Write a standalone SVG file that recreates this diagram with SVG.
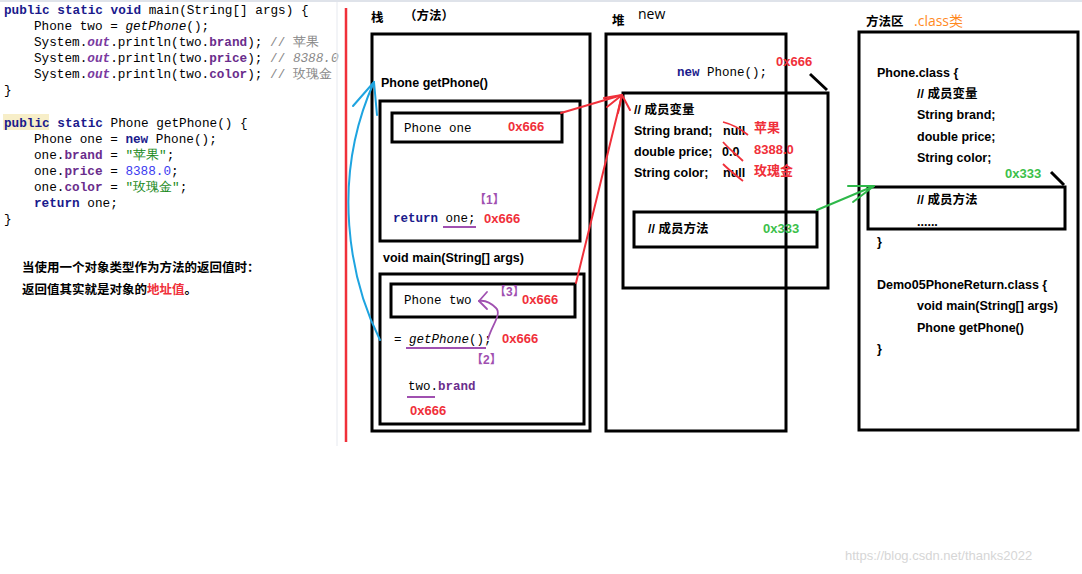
<svg xmlns="http://www.w3.org/2000/svg" width="1082" height="574" viewBox="0 0 1082 574">
<style>
.c{font-family:"Liberation Mono",monospace;font-size:12.7px;fill:#000}
.k{fill:#1a1a8c;font-weight:bold}
.f{fill:#6a2d8c;font-weight:bold}
.o{fill:#7a3aa0;font-weight:bold;font-style:italic}
.cm{fill:#888}
.s{fill:#1a8a1a}
.n{fill:#3a3af0}
.b{font-family:"Liberation Sans","Noto Sans CJK SC",sans-serif;font-size:12.5px;font-weight:bold;fill:#000}
.r{font-family:"Liberation Sans","Noto Sans CJK SC",sans-serif;font-size:13px;font-weight:bold;fill:#f0303a}
.g{font-family:"Liberation Sans","Noto Sans CJK SC",sans-serif;font-size:13px;font-weight:bold;fill:#3cbf4a}
.p{font-family:"Liberation Sans","Noto Sans CJK SC",sans-serif;font-size:12px;font-weight:bold;fill:#a050b0}
.m{font-family:"Liberation Mono",monospace;font-size:12.5px;fill:#000}
.box{fill:none;stroke:#000;stroke-width:3}
</style>
<rect width="1082" height="574" fill="#fff"/>
<line x1="0" y1="1" x2="1082" y2="1" stroke="#dfe3ea" stroke-width="2"/>
<g id="code">
<text class="c" x="4" y="14"><tspan class="k">public static void</tspan> main(String[] args) {</text>
<text class="c" x="34" y="30">Phone two = <tspan font-style="italic">getPhone</tspan>();</text>
<text class="c" x="34" y="46">System.<tspan class="o">out</tspan>.println(two.<tspan class="f">brand</tspan>); <tspan class="cm">// 苹果</tspan></text>
<text class="c" x="34" y="62">System.<tspan class="o">out</tspan>.println(two.<tspan class="f">price</tspan>); <tspan class="cm">// <tspan font-style="italic">8388.0</tspan></tspan></text>
<text class="c" x="34" y="78">System.<tspan class="o">out</tspan>.println(two.<tspan class="f">color</tspan>); <tspan class="cm">// 玫瑰金</tspan></text>
<text class="c" x="4" y="94">}</text>
<rect x="3" y="114" width="46" height="16" fill="#f7eec8"/>
<text class="c" x="4" y="127"><tspan class="k">public static</tspan> Phone getPhone() {</text>
<text class="c" x="34" y="143">Phone one = <tspan class="k">new</tspan> Phone();</text>
<text class="c" x="34" y="159">one.<tspan class="f">brand</tspan> = <tspan class="s">"苹果"</tspan>;</text>
<text class="c" x="34" y="175">one.<tspan class="f">price</tspan> = <tspan class="n">8388.0</tspan>;</text>
<text class="c" x="34" y="191">one.<tspan class="f">color</tspan> = <tspan class="s">"玫瑰金"</tspan>;</text>
<text class="c" x="34" y="207"><tspan class="k">return</tspan> one;</text>
<text class="c" x="4" y="223">}</text>
<text class="b" x="22" y="272" font-size="12px">当使用一个对象类型作为方法的返回值时：</text>
<text class="b" x="22" y="294" font-size="12px">返回值其实就是对象的<tspan fill="#f0303a">地址值</tspan>。</text>
<line x1="337" y1="2" x2="337" y2="446" stroke="#e6e9ef" stroke-width="1"/>
</g>
<line x1="346" y1="8" x2="346" y2="442" stroke="#f0303a" stroke-width="2.5"/>
<g id="stack">
<text class="b" x="371" y="22">栈</text>
<text class="b" x="404" y="20" font-weight="normal" font-size="14px">（方法）</text>
<rect class="box" x="372" y="34" width="218" height="397"/>
<text class="b" x="381" y="87">Phone getPhone()</text>
<rect class="box" x="380" y="101" width="200" height="140"/>
<rect class="box" x="392" y="113" width="170" height="29"/>
<text class="m" x="404" y="132">Phone one</text>
<text class="r" x="508" y="131">0x666</text>
<text class="p" x="474" y="204">【1】</text>
<text class="m" x="393" y="222"><tspan class="k">return</tspan> one;</text>
<line x1="443" y1="227" x2="476" y2="227" stroke="#a050b0" stroke-width="2"/>
<text class="r" x="484" y="223">0x666</text>
<text class="b" x="383" y="262">void main(String[] args)</text>
<rect class="box" x="380" y="274" width="204" height="150"/>
<rect class="box" x="391" y="284" width="184" height="33"/>
<text class="m" x="404" y="304">Phone two</text>
<text class="p" x="494" y="296" font-size="10.5px">【3】</text>
<text class="r" x="522" y="304">0x666</text>
<text class="m" x="394" y="343">= <tspan font-style="italic">getPhone</tspan>();</text>
<line x1="406" y1="348" x2="486" y2="348" stroke="#a050b0" stroke-width="2"/>
<text class="r" x="502" y="343">0x666</text>
<text class="p" x="471" y="364">【2】</text>
<text class="m" x="408" y="390">two.<tspan class="f">brand</tspan></text>
<line x1="407" y1="397" x2="435" y2="397" stroke="#a050b0" stroke-width="2"/>
<text class="r" x="410" y="415">0x666</text>
</g>
<g id="heap">
<text class="b" x="612" y="25">堆</text>
<text x="638" y="19" font-family="'Open Sans','Liberation Sans',sans-serif" font-size="14px">new</text>
<rect class="box" x="606" y="34" width="180" height="397"/>
<text class="m" x="677" y="76"><tspan class="k">new</tspan> Phone();</text>
<text class="r" x="776" y="66">0x666</text>
<line x1="810" y1="74" x2="827" y2="90" stroke="#000" stroke-width="3"/>
<rect class="box" x="623" y="93" width="205" height="195"/>
<text class="b" x="634" y="114">// 成员变量</text>
<text class="b" x="634" y="135">String brand;</text>
<text class="b" x="723" y="135">null</text>
<text class="b" x="634" y="156">double price;</text>
<text class="b" x="722" y="156">0.0</text>
<text class="b" x="634" y="177">String color;</text>
<text class="b" x="723" y="177">null</text>
<g stroke="#f0303a" stroke-width="1.8" fill="none">
<path d="M723,122 C735,125 742,130 748,135"/>
<path d="M723,142 C730,150 737,155 743,161"/>
<path d="M723,164 C730,171 737,176 743,181"/>
</g>
<text class="r" x="754" y="132" font-weight="normal">苹果</text>
<text class="r" x="754" y="154">8388.0</text>
<text class="r" x="754" y="175" font-weight="normal">玫瑰金</text>
<rect class="box" x="634" y="212" width="183" height="35"/>
<text class="b" x="648" y="233">// 成员方法</text>
<text class="g" x="763" y="233">0x333</text>
</g>
<g id="methodarea">
<text class="b" x="866" y="26">方法区</text>
<text x="914" y="26" font-family="'Open Sans','Liberation Sans','Noto Sans CJK SC',sans-serif" font-size="14px" fill="#ff8a1f">.class类</text>
<rect class="box" x="859" y="32" width="219" height="398"/>
<text class="b" x="877" y="77">Phone.class {</text>
<text class="b" x="917" y="98">// 成员变量</text>
<text class="b" x="917" y="119">String brand;</text>
<text class="b" x="917" y="141">double price;</text>
<text class="b" x="917" y="162">String color;</text>
<text class="g" x="1005" y="178">0x333</text>
<line x1="1051" y1="172" x2="1064" y2="185" stroke="#000" stroke-width="3"/>
<rect class="box" x="868" y="187" width="197" height="42"/>
<text class="b" x="917" y="204">// 成员方法</text>
<text class="b" x="917" y="226">......</text>
<text class="b" x="877" y="246">}</text>
<text class="b" x="877" y="289">Demo05PhoneReturn.class {</text>
<text class="b" x="917" y="310">void main(String[] args)</text>
<text class="b" x="917" y="332">Phone getPhone()</text>
<text class="b" x="877" y="353">}</text>
</g>
<g id="connectors" fill="none" stroke-width="2" stroke-linecap="round">
<path d="M561,113 L622,95" stroke="#f0303a"/>
<path d="M576,283 L622,95" stroke="#f0303a"/>
<path d="M622,95 L604,98 M622,95 L607,107 M622,95 L618,113 M622,95 L630,110" stroke="#f0303a"/>
<path d="M817,210 L874,186" stroke="#2eb84a"/>
<path d="M874,186 L848,186 M874,186 L853,202" stroke="#2eb84a"/>
<path d="M380,340 C350,280 330,180 374,82" stroke="#1ea4e0"/>
<path d="M377,115 L374,82 M374,82 L353,106" stroke="#1ea4e0"/>
<path d="M488,339 C492,325 502,314 496,308 C490,302 484,300 479,301" stroke="#a050b0" stroke-width="1.8"/>
<path d="M479,301 L487,292 M479,301 L487,309" stroke="#a050b0" stroke-width="1.8"/>
</g>
<text x="845" y="560" font-family="'Liberation Sans',sans-serif" font-size="13px" fill="#d6d6d6">https://blog.csdn.net/thanks2022</text>
</svg>
